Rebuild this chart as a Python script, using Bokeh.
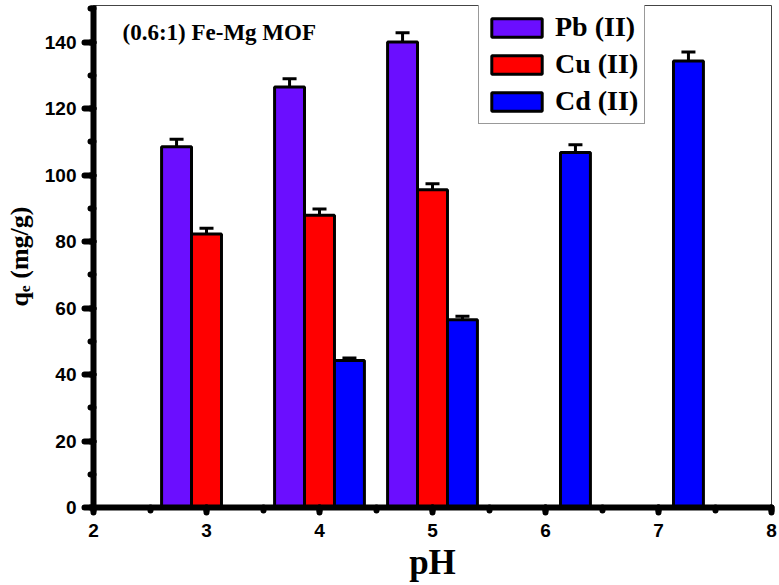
from bokeh.plotting import figure
from bokeh.models import (ColumnDataSource, Whisker, TeeHead, Legend, LegendItem,
                          Label, SingleIntervalTicker, Range1d)
from bokeh.embed import file_html
from bokeh.resources import INLINE

# ---- data ----
ph_pb = [3, 4, 5]
pb = [108.5, 126.5, 140.0]
pb_err = [2.3, 2.5, 2.8]

ph_cu = [3, 4, 5]
cu = [82.3, 87.9, 95.6]
cu_err = [1.7, 1.9, 1.8]

ph_cd = [4, 5, 6, 7]
cd = [44.2, 56.5, 106.8, 134.3]
cd_err = [0.8, 1.0, 2.3, 2.7]

series_names = ["Pb (II)", "Cu (II)", "Cd (II)"]
colors = ["#6B0EFF", "#FF0000", "#0000FF"]
offsets = [-0.265, 0.0, 0.265]
bar_width = 0.265

title_text = "(0.6:1) Fe-Mg MOF"
x_label = "pH"
y_label = "q\u2091 (mg/g)"

SERIF = "Liberation Serif"
SANS = "Liberation Sans"

p = figure(width=779, height=585, output_backend="svg", toolbar_location=None,
           x_range=Range1d(2, 8), y_range=Range1d(0, 151),
           min_border_left=93, min_border_right=8, min_border_top=5, min_border_bottom=78)
p.background_fill_color = "white"
p.border_fill_color = "white"
p.xgrid.visible = False
p.ygrid.visible = False
p.outline_line_color = "#444444"
p.outline_line_width = 1

# axes styling
for ax in (p.xaxis[0], p.yaxis[0]):
    ax.axis_line_width = 6
    ax.axis_line_color = "black"
    ax.major_tick_line_width = 6
    ax.minor_tick_line_width = 6
    ax.major_tick_line_cap = "round"
    ax.minor_tick_line_cap = "round"
    ax.major_tick_in = 0
    ax.minor_tick_in = 0
    ax.minor_tick_out = 3
    ax.major_label_text_font = SANS
    ax.major_label_text_font_style = "bold"
    ax.major_label_text_font_size = "19px"
    ax.major_label_text_color = "black"
    ax.axis_label_text_font = SERIF
    ax.axis_label_text_font_style = "bold"
    ax.axis_label_text_color = "black"

p.xaxis[0].ticker = SingleIntervalTicker(interval=1, num_minor_ticks=2)
p.yaxis[0].ticker = SingleIntervalTicker(interval=20, num_minor_ticks=2)
p.xaxis[0].major_tick_out = 5
p.yaxis[0].major_tick_out = 9
p.xaxis[0].major_label_standoff = 11
p.yaxis[0].major_label_standoff = 8

p.xaxis[0].axis_label = x_label
p.xaxis[0].axis_label_text_font_size = "35px"
p.xaxis[0].axis_label_standoff = 3
p.yaxis[0].axis_label = y_label
p.yaxis[0].axis_label_text_font_size = "26px"
p.yaxis[0].axis_label_standoff = 8

# bars + error bars
items = []
for name, xs, ys, es, col, off in zip(series_names, [ph_pb, ph_cu, ph_cd], [pb, cu, cd],
                                       [pb_err, cu_err, cd_err], colors, offsets):
    src = ColumnDataSource(dict(
        x=[v + off for v in xs], top=ys,
        upper=[y + e for y, e in zip(ys, es)],
        lower=[y - e for y, e in zip(ys, es)]))
    r = p.vbar(x="x", top="top", bottom=0, width=bar_width, source=src,
               fill_color=col, line_color="black", line_width=3)
    w = Whisker(source=src, base="x", upper="upper", lower="lower",
                line_color="black", line_width=3,
                upper_head=TeeHead(size=14, line_width=3, line_color="black"),
                lower_head=TeeHead(size=14, line_width=3, line_color="black"))
    p.add_layout(w)
    items.append(LegendItem(label=name, renderers=[r]))

legend = Legend(items=items, location=(385, 383),
                glyph_width=63, glyph_height=23,
                label_text_font=SERIF, label_text_font_style="bold",
                label_text_font_size="28px", label_text_color="black",
                label_standoff=7, spacing=5, padding=6, margin=0,
                border_line_color="#333333", border_line_width=1.5,
                background_fill_alpha=1.0)
p.add_layout(legend, "center")

# title inside plot
p.add_layout(Label(x=29, y=475, x_units="screen", y_units="screen", text=title_text,
                   text_font=SERIF, text_font_style="bold", text_font_size="23px",
                   text_baseline="alphabetic", text_align="left", text_color="black"))

open("out.html", "w").write(file_html(p, INLINE))
